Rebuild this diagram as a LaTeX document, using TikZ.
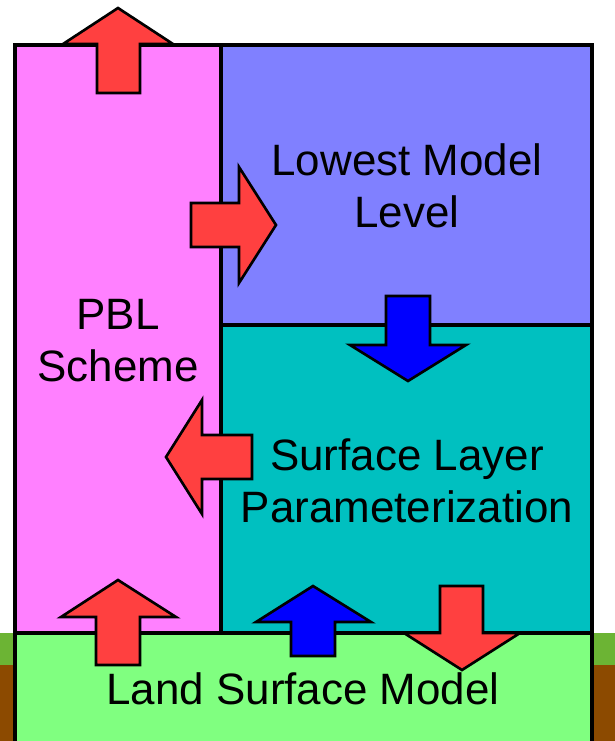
\documentclass[tikz,border=0pt]{standalone}
\usepackage{fontspec}
\setmainfont{Liberation Sans}
\usetikzlibrary{positioning}
\definecolor{pblPink}{HTML}{FF80FF}
\definecolor{levelBlue}{HTML}{8080FF}
\definecolor{layerTeal}{HTML}{00C0C0}
\definecolor{landGreen}{HTML}{80FF80}
\definecolor{grassGreen}{HTML}{6CB434}
\definecolor{soilBrown}{HTML}{8C4A00}
\definecolor{fluxRed}{HTML}{FF4040}
\definecolor{fluxBlue}{HTML}{0000FF}

\begin{document}
\begin{tikzpicture}[x=0.02cm, y=-0.02cm,
    box/.style={draw=black, line width=1.8pt},
    flux/.style={draw=black, line width=1.5pt, line join=miter},
    boxText/.style={font=\fontsize{25}{29.6}\selectfont, align=center, inner sep=0pt}]
        \useasboundingbox[fill=white] (0,0) rectangle (615,741);
        % ground
        \fill[grassGreen] (0,633) rectangle (615,665);
        \fill[soilBrown] (0,665) rectangle (615,741);
        % boxes
        \draw[box, fill=pblPink] (15,45) rectangle (221,633);
        \draw[box, fill=levelBlue] (221,45) rectangle (592,325);
        \draw[box, fill=layerTeal] (221,325) rectangle (592,633);
        \fill[landGreen] (15,633) rectangle (592,741);
        \draw[box] (15,741) -- (15,633) -- (592,633) -- (592,741);
        \node[boxText] (pbl) at (118,341) {PBL\\Scheme};
        \node[boxText] (lowest) at (407,186) {Lowest Model\\Level};
        \node[boxText] (surface) at (407,481) {Surface Layer\\Parameterization};
        \node[boxText] (land) at (303,689) {Land Surface Model};
        % fluxes
        \draw[flux, fill=fluxRed] (97,93) -- (97,44) -- (63,44) -- (118,8) -- (173,44) -- (140,44) -- (140,93) -- cycle;
        \draw[flux, fill=fluxRed] (191,203) -- (239,203) -- (239,167) -- (276,225) -- (239,283) -- (239,247) -- (191,247) -- cycle;
        \draw[flux, fill=fluxBlue] (386,296) -- (430,296) -- (430,345) -- (466,345) -- (408,381) -- (350,345) -- (386,345) -- cycle;
        \draw[flux, fill=fluxRed] (252,435) -- (202,435) -- (202,400) -- (166,457) -- (202,514) -- (202,479) -- (252,479) -- cycle;
        \draw[flux, fill=fluxRed] (96,665) -- (96,617) -- (61,617) -- (118,580) -- (176,617) -- (140,617) -- (140,665) -- cycle;
        \draw[flux, fill=fluxBlue] (291,656) -- (291,622) -- (256,622) -- (313,586) -- (371,622) -- (335,622) -- (335,656) -- cycle;
        \draw[flux, fill=fluxRed] (440,586) -- (483,586) -- (483,633) -- (520,633) -- (462,670) -- (404,633) -- (440,633) -- cycle;
      \end{tikzpicture}
\end{document}
